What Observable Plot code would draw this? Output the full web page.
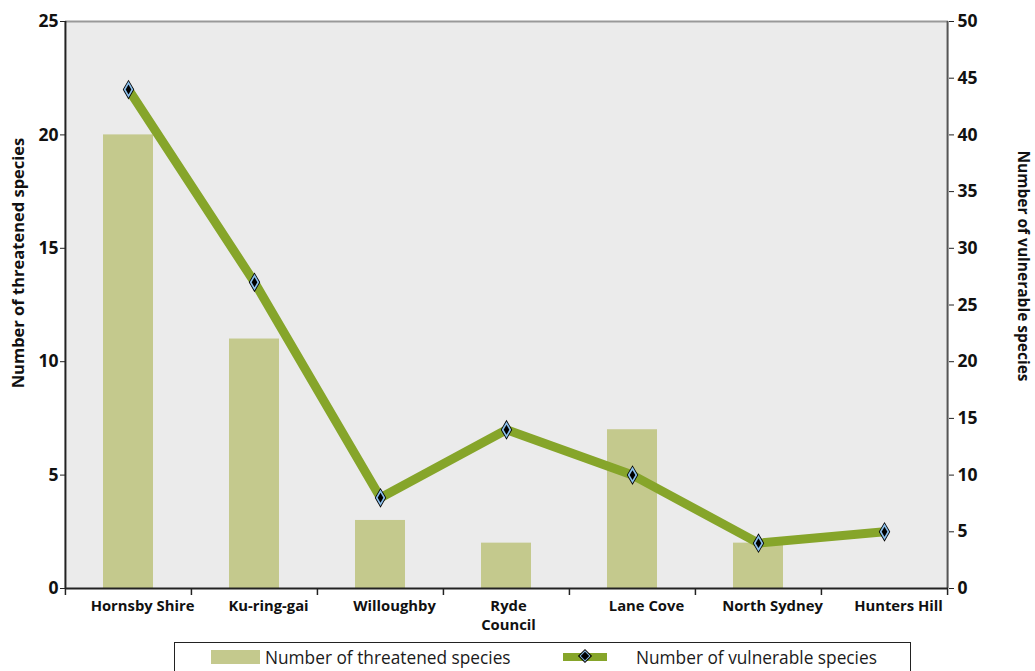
<!DOCTYPE html>
<html>
<head>
<meta charset="utf-8">
<script src="https://cdn.jsdelivr.net/npm/d3@7"></script>
<script src="https://cdn.jsdelivr.net/npm/@observablehq/plot@0.6"></script>
<style>
  html, body { margin: 0; padding: 0; background: #fff; }
  body { width: 1035px; height: 671px; position: relative; overflow: hidden; font-family: "Open Sans", sans-serif; }
  #chart { position: absolute; left: 0; top: 0; }
  #legend { position: absolute; left: 174px; top: 642px; width: 737px; height: 40px; border: 1.5px solid #222; box-sizing: border-box; background: #fff; }
  .lg-item { position: absolute; top: 2px; font-size: 17.3px; color: #1a1a1a; display: flex; align-items: center; height: 24px; }
  .sw-bar { width: 49px; height: 14px; background: #C4C98D; display: inline-block; margin-right: 5px; }
  .sw-line { width: 44px; height: 8px; background: #86A52A; display: inline-block; position: relative; margin-right: 29px; }
  .sw-line::after { content: ""; position: absolute; left: 18px; top: -1px; width: 6px; height: 6px; background: #000; border: 1.5px solid #8cc0ec; transform: rotate(45deg); outline: 1px solid #000; }
</style>
</head>
<body>
<div id="chart"></div>
<div id="legend">
  <div class="lg-item" style="left:36px"><span class="sw-bar"></span>Number of threatened species</div>
  <div class="lg-item" style="left:388px"><span class="sw-line"></span>Number of vulnerable species</div>
</div>
<script>
const councils = ["Hornsby Shire", "Ku-ring-gai", "Willoughby", "Ryde Council", "Lane Cove", "North Sydney", "Hunters Hill"];
const councilLabels = ["Hornsby Shire", "Ku-ring-gai", "Willoughby", "Ryde\nCouncil", "Lane Cove", "North Sydney", "Hunters Hill"];
const threatened = [20, 11, 3, 2, 7, 2, 0];
const vulnerable = [44, 27, 8, 14, 10, 4, 5];
const leftTicks = [0, 5, 10, 15, 20, 25];
const rightTicks = [0, 5, 10, 15, 20, 25, 30, 35, 40, 45, 50];

const W = 1035, H = 640;
const mL = 65, mR = 87, mT = 21, mB = 52;
const step = (W - mL - mR) / councils.length;

const rows = councils.map((c, i) => ({council: c, threatened: threatened[i], vulnerable: vulnerable[i]}));
const labelOf = new Map(councils.map((c, i) => [c, councilLabels[i]]));

const font = "Open Sans";
const bold = {fontFamily: font, fontWeight: "bold"};

const chart = Plot.plot({
  width: W,
  height: H,
  marginLeft: mL,
  marginRight: mR,
  marginTop: mT,
  marginBottom: mB,
  style: {fontFamily: font, fontSize: "16px", fontWeight: "bold", color: "#111", background: "#fff"},
  x: {domain: councils, paddingInner: 0.6, paddingOuter: 0.3},
  y: {domain: [0, 25]},
  marks: [
    Plot.frame({fill: "#EBEBEB", stroke: null}),
    Plot.barY(rows, {x: "council", y: "threatened", fill: "#C4C98D"}),
    Plot.line(rows, {x: "council", y: d => d.vulnerable / 2, stroke: "#86A52A", strokeWidth: 9, strokeLinecap: "butt", strokeLinejoin: "miter"}),
    Plot.dot(rows, {x: "council", y: d => d.vulnerable / 2, symbol: "diamond", r: 6, fill: "#000", stroke: null}),
    Plot.dot(rows, {x: "council", y: d => d.vulnerable / 2, symbol: "diamond", r: 5, fill: "#8cc0ec", stroke: null}),
    Plot.dot(rows, {x: "council", y: d => d.vulnerable / 2, symbol: "diamond", r: 3, fill: "#000", stroke: null}),
    // frame lines
    Plot.ruleY([25], {stroke: "#999", strokeWidth: 2}),
    Plot.ruleX(councils.slice(0, 1), {x: d => d, dx: -step / 2, stroke: "#222", strokeWidth: 2}),
    Plot.ruleX(councils.slice(-1), {x: d => d, dx: step / 2, stroke: "#555", strokeWidth: 2}),
    Plot.ruleY([0], {stroke: "#222", strokeWidth: 2}),
    // category boundary ticks
    Plot.ruleX(councils, {x: d => d, dx: -step / 2, y1: 0, y2: 0, insetBottom: -7, insetTop: 0, stroke: "#222", strokeWidth: 1.5}),
    Plot.ruleX(councils.slice(-1), {x: d => d, dx: step / 2, y1: 0, y2: 0, insetBottom: -7, insetTop: 0, stroke: "#222", strokeWidth: 1.5}),
    Plot.axisX({ticks: councils.filter(c => c !== "Ryde Council"), dx: 14, tickSize: 0, tickPadding: 9, tickFormat: d => labelOf.get(d), label: null, fontSize: 14.8, ...bold, lineHeight: 1.3}),
    Plot.axisX({ticks: ["Ryde Council"], dx: 2, tickSize: 0, tickPadding: 9, tickFormat: d => labelOf.get(d), label: null, fontSize: 14.8, ...bold, lineHeight: 1.3}),
    Plot.axisY({ticks: leftTicks, tickSize: 5, tickPadding: 2, label: null, fontSize: 17.5, ...bold, stroke: "#222"}),
    Plot.axisY({anchor: "right", ticks: rightTicks.map(v => v / 2), tickFormat: d => String(d * 2), tickSize: 5, tickPadding: 4, label: null, fontSize: 17.5, ...bold, stroke: "#222"}),
    Plot.text(["Number of threatened species"], {frameAnchor: "left", textAnchor: "middle", text: d => d, rotate: -90, dx: -47, dy: -42, fontSize: 16.5, ...bold, fill: "#111"}),
    Plot.text(["Number of vulnerable species"], {frameAnchor: "right", textAnchor: "middle", text: d => d, rotate: 90, dx: 74, dy: -39, fontSize: 15.5, ...bold, fill: "#111"})
  ]
});
document.getElementById("chart").append(chart);
</script>
</body>
</html>
